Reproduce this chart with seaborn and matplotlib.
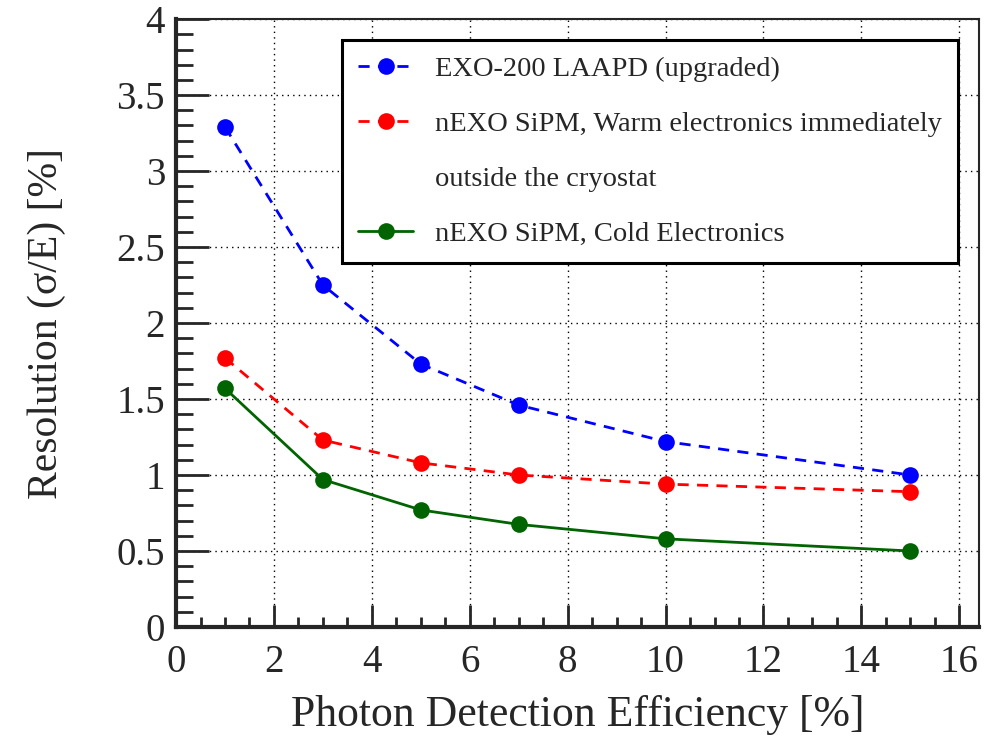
import pandas as pd
import matplotlib
matplotlib.use("Agg")
import matplotlib.pyplot as plt
from matplotlib.lines import Line2D
from matplotlib.ticker import MultipleLocator, FuncFormatter
import seaborn as sns

pde = [1, 3, 5, 7, 10, 15]
exo200 = [3.29, 2.25, 1.73, 1.46, 1.22, 1.00]
warm = [1.77, 1.23, 1.08, 1.00, 0.94, 0.89]
cold = [1.57, 0.97, 0.77, 0.675, 0.58, 0.50]

labels = ["EXO-200 LAAPD (upgraded)",
          "nEXO SiPM, Warm electronics immediately",
          "outside the cryostat",
          "nEXO SiPM, Cold Electronics"]

sns.set_style("ticks")
plt.rcParams["font.family"] = ["Liberation Serif", "DejaVu Serif"]

fig = plt.figure(figsize=(10.06, 7.35), dpi=100)
ax = fig.add_axes([0.175, 0.147, 0.798, 0.827])

blue, red, green = "#0000ff", "#ff0000", "#006400"
dash = (0, (4, 3))
df = pd.DataFrame({"pde": pde, "exo": exo200, "warm": warm, "cold": cold})

style = dict(lw=2, marker="o", markersize=12, markeredgewidth=0)
sns.lineplot(data=df, x="pde", y="exo", ax=ax, color=blue, linestyle=dash, **style)
sns.lineplot(data=df, x="pde", y="warm", ax=ax, color=red, linestyle=dash, **style)
sns.lineplot(data=df, x="pde", y="cold", ax=ax, color=green, linestyle="-", **style)

ax.set_xlim(0, 16.4)
ax.set_ylim(0, 4)
ax.xaxis.set_major_locator(MultipleLocator(2))
ax.xaxis.set_minor_locator(MultipleLocator(0.5))
ax.yaxis.set_major_locator(MultipleLocator(0.5))
ax.yaxis.set_minor_locator(MultipleLocator(0.1))
ax.yaxis.set_major_formatter(FuncFormatter(lambda v, p: f"{v:g}"))
ax.tick_params(which="both", direction="in", top=False, right=False, labelsize=28, width=2)
ax.tick_params(axis="x", which="major", length=16, pad=12)
ax.tick_params(axis="x", which="minor", length=7)
ax.tick_params(axis="y", which="major", length=24, pad=8)
ax.tick_params(axis="y", which="minor", length=12)
ax.grid(True, which="major", color="black", linestyle=(0, (1, 3)), lw=1)
ax.set_axisbelow(True)
for side in ["left", "bottom"]:
    ax.spines[side].set_linewidth(3)
for side in ["right", "top"]:
    ax.spines[side].set_linewidth(1.5)
    ax.spines[side].set_visible(True)

ax.set_xlabel("Photon Detection Efficiency [%]", fontsize=31.5, labelpad=10)
ax.set_ylabel("Resolution (σ/E) [%]", fontsize=30, labelpad=36)

handles = [
    Line2D([], [], color=blue, linestyle=dash, **style),
    Line2D([], [], color=red, linestyle=dash, **style),
    Line2D([], [], linestyle="none"),
    Line2D([], [], color=green, linestyle="-", **style),
]
leg = ax.legend(handles, labels, loc="upper left", bbox_to_anchor=(0.207, 0.599, 0.767, 0.366),
                mode="expand", borderaxespad=0, fontsize=20.5, fancybox=False, framealpha=1,
                edgecolor="black", handlelength=1.95, handletextpad=0.77, labelspacing=1.02,
                borderpad=0.55)
leg.get_frame().set_linewidth(2.2)

fig.savefig("out.png", dpi=100)
